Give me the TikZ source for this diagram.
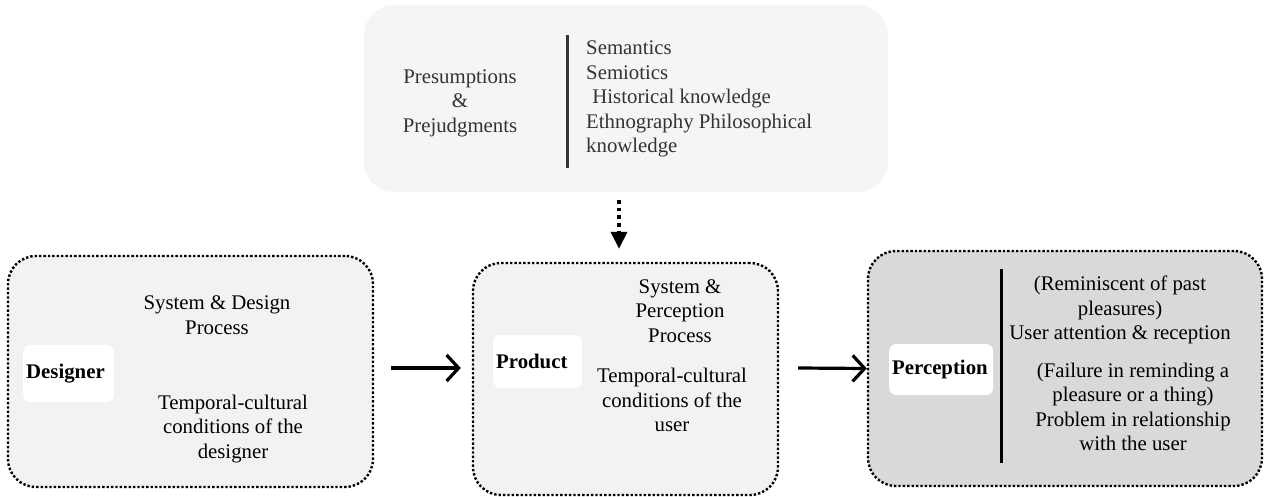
\documentclass[tikz,border=0pt]{standalone}
\usepackage{fontspec}
\setmainfont{Liberation Serif}
\newfontfamily\timesface{Liberation Serif}
\usepackage{xcolor}
\usepackage{tikz}
\usetikzlibrary{calc,arrows.meta}
\definecolor{topbg}{HTML}{F5F5F5}
\definecolor{boxbg}{HTML}{F2F2F2}
\definecolor{percbg}{HTML}{D9D9D9}
\definecolor{ink}{HTML}{000000}
\definecolor{soft}{HTML}{333333}
\tikzset{
  txt/.style={font=\timesface\fontsize{20.8}{24.5}\selectfont, align=center, inner sep=0pt},
  stage/.style={draw=ink, line width=2.4pt, dash pattern=on 2.4pt off 2pt, rounded corners=28pt, inner sep=0pt},
  tag/.style={fill=white, rounded corners=7pt, font=\timesface\fontsize{20.8}{24.5}\selectfont\bfseries, align=left, inner xsep=3pt, inner ysep=0pt, anchor=west},
  flow/.style={draw=ink, line width=3.2pt, -{Straight Barb[length=12pt,width=26pt]}},
  feed/.style={draw=ink, line width=3.6pt, dash pattern=on 3.6pt off 4pt, -{Triangle[length=17pt,width=16pt]}},
  bar/.style={line width=3pt},
}

\begin{document}
\begin{tikzpicture}[x=1pt,y=-1pt]
  \useasboundingbox (0,0) rectangle (1265,497);

  \node[fill=topbg, rounded corners=30pt, minimum width=524pt, minimum height=187pt, inner sep=0pt] (prior) at (626,98.5) {};
  \node[txt, text=soft] (presume) at (460,103) {Presumptions\\\&\\Prejudgments};
  \draw[bar, draw=soft] (567,35) -- (567,168);
  \node[txt, text=soft, align=left, anchor=west] (fields) at (586,99) {Semantics\\Semiotics\\\hspace*{0.3em}Historical knowledge\\Ethnography Philosophical\\knowledge};

  \node[stage, fill=boxbg, minimum width=365pt, minimum height=231pt] (designer) at (190.5,371.5) {};
  \node[tag, text width=85pt, minimum height=57pt] (designertag) at (23,373.5) {Designer};
  \node[txt] (designsys) at (217,315) {System \& Design\\Process};
  \node[txt] (designcond) at (233,429) {Temporal-cultural\\conditions of the\\designer};

  \node[stage, fill=boxbg, minimum width=305pt, minimum height=232pt] (product) at (625.5,379) {};
  \node[tag, text width=83pt, minimum height=53pt] (producttag) at (493,361.5) {Product};
  \node[txt] (productsys) at (680,311) {System \&\\Perception\\Process};
  \node[txt] (productcond) at (672,400) {Temporal-cultural\\conditions of the\\user};

  \node[stage, fill=percbg, minimum width=394pt, minimum height=235pt] (perception) at (1065,368.5) {};
  \node[tag, text width=98pt, minimum height=51pt] (perceptiontag) at (889,369.5) {Perception};
  \draw[bar, draw=ink] (1001,269) -- (1001,463);
  \node[txt] (pleasant) at (1120,310) {(Reminiscent of past\\pleasures)\\User attention \& reception};
  \node[txt] (failure) at (1133,407) {(Failure in reminding a\\pleasure or a thing)\\Problem in relationship\\with the user};

  \draw[feed] ($(prior.south)+(-7,8)$) -- ($(product.north)+(-6.5,-13)$);
  \draw[flow] ($(designer.east)+(17,-3.5)$) -- ($(product.west)+(-11,-11)$);
  \draw[flow] ($(product.east)+(19,-11)$) -- (perception.west);
\end{tikzpicture}
\end{document}
